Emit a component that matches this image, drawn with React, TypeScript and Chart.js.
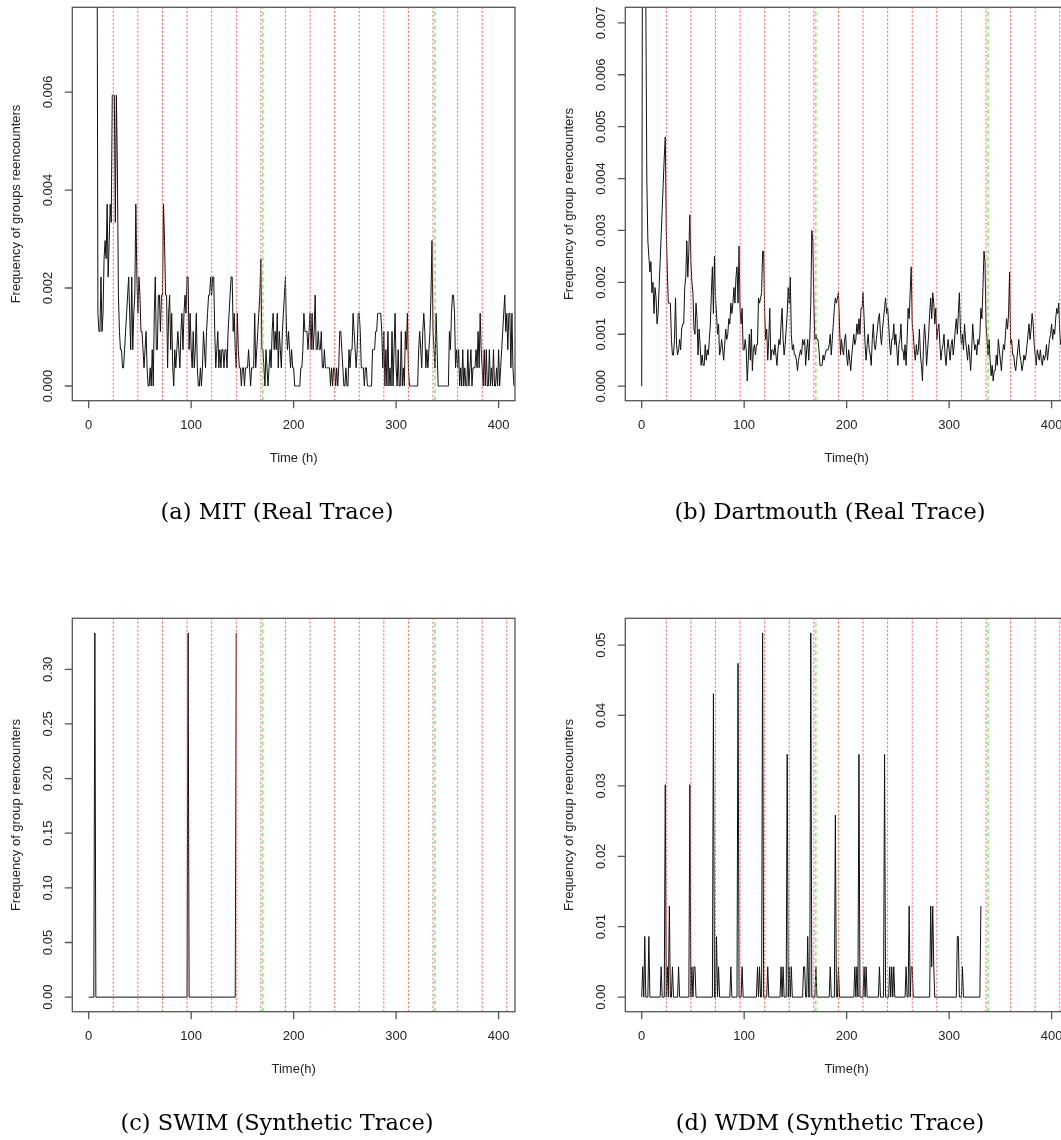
import { useEffect, useRef } from 'react'
import Chart from 'chart.js/auto'

// shared axis data
const xTickHours = [0, 100, 200, 300, 400]
const dayMarkHours = [24, 48, 72, 96, 120, 144, 168, 192, 216, 240, 264, 288, 312, 336, 360, 384, 408]
const mitDayMarkHours = [24, 48, 72, 96, 120, 144, 168, 192, 216, 240, 264, 288, 312, 336, 360, 384]
const weekMarkHours = [170, 338]

// (a) MIT: hourly reencounter counts from hour 8, one count = 0.000371
const MIT_START_HOUR = 8
const MIT_COUNT_UNIT = 0.000371
const mitCounts = [
  30, 4, 3, 3, 6, 3, 4, 7, 8, 7, 10, 6, 8, 10, 9, 16,
  16, 16, 9, 16, 12, 5, 3, 2, 2, 1, 1, 2, 3, 4, 5, 6, 4, 2, 6, 2, 4, 5, 10, 6,
  4, 6, 5, 3, 3, 2, 1, 2, 3, 1, 0, 0, 1, 0, 2, 0, 4, 6, 2, 2, 5, 5, 3, 5,
  5, 10, 8, 5, 5, 1, 4, 5, 2, 4, 1, 0, 2, 1, 2, 3, 2, 1, 3, 4, 2, 4, 5, 4,
  6, 6, 2, 4, 2, 1, 3, 1, 2, 4, 1, 0, 0, 1, 0, 1, 3, 2, 1, 3, 4, 5, 5, 6,
  5, 6, 6, 3, 1, 2, 3, 1, 2, 1, 2, 2, 1, 2, 2, 1, 3, 4, 5, 6, 6, 3, 4, 2,
  1, 4, 2, 1, 1, 0, 1, 1, 0, 1, 1, 1, 2, 1, 0, 1, 1, 1, 4, 1, 2, 3, 4, 5,
  7, 2, 2, 1, 0, 2, 1, 0, 1, 2, 1, 3, 4, 2, 3, 2, 4, 1, 3, 2, 1, 3, 4, 5,
  6, 3, 2, 3, 2, 1, 2, 1, 1, 0, 0, 0, 0, 0, 0, 1, 1, 2, 4, 3, 3, 3, 2, 3,
  4, 2, 4, 2, 3, 5, 2, 2, 3, 2, 2, 3, 1, 1, 2, 1, 1, 1, 1, 1, 0, 1, 0, 1,
  1, 0, 1, 0, 1, 3, 3, 2, 1, 0, 0, 1, 0, 0, 2, 1, 2, 2, 4, 3, 2, 1, 2, 4,
  4, 3, 1, 1, 1, 0, 1, 1, 0, 0, 0, 0, 0, 2, 2, 2, 3, 3, 4, 4, 4, 4, 3, 1,
  3, 0, 2, 0, 3, 0, 1, 0, 3, 0, 2, 4, 1, 0, 2, 0, 0, 3, 0, 1, 0, 3, 2, 4,
  1, 0, 0, 0, 0, 0, 0, 0, 0, 0, 2, 3, 2, 1, 3, 4, 3, 1, 2, 1, 2, 3, 5, 8,
  3, 2, 1, 4, 2, 0, 0, 0, 0, 0, 0, 0, 0, 0, 0, 0, 3, 2, 4, 5, 5, 4, 1, 2,
  1, 2, 0, 1, 0, 2, 0, 1, 0, 0, 2, 0, 1, 2, 0, 1, 1, 1, 2, 1, 3, 1, 4, 2,
  1, 0, 2, 0, 2, 0, 0, 2, 0, 1, 0, 2, 0, 0, 1, 0, 2, 0, 1, 2, 3, 4, 5, 3,
  4, 2, 4, 4, 1, 4, 1, 0,
]
const mitYTicks = [0, 0.002, 0.004, 0.006]

// (b) Dartmouth: hourly frequency from hour 0, in units of 1e-4
const dartmouthPer10k = [
  0, 120, 100, 90, 75, 40, 28, 25, 22, 24, 18, 20, 14, 19, 17, 12, 14, 19, 24, 29, 34, 39, 44, 48,
  30, 22, 16, 16, 16, 9, 6, 6, 9, 17, 8, 6, 7, 9, 7, 11, 12, 12, 19, 21, 28, 21, 26, 33,
  24, 20, 18, 11, 10, 16, 13, 6, 11, 8, 4, 6, 4, 4, 8, 5, 7, 6, 9, 12, 18, 23, 14, 25,
  17, 14, 10, 12, 6, 7, 9, 7, 5, 8, 11, 9, 10, 13, 12, 16, 14, 16, 19, 16, 21, 23, 16, 27,
  15, 12, 15, 7, 7, 9, 7, 1, 5, 10, 5, 11, 3, 7, 8, 6, 8, 8, 17, 16, 17, 18, 26, 26,
  14, 9, 11, 5, 9, 15, 5, 7, 7, 6, 8, 6, 4, 7, 9, 8, 12, 15, 9, 6, 8, 11, 14, 19,
  16, 21, 10, 7, 8, 6, 6, 5, 3, 5, 6, 7, 6, 9, 8, 9, 4, 7, 9, 5, 9, 16, 30, 28,
  16, 9, 10, 9, 9, 7, 4, 4, 4, 6, 5, 6, 7, 7, 7, 8, 10, 6, 9, 12, 15, 17, 16, 17,
  18, 12, 6, 9, 7, 6, 9, 10, 6, 4, 7, 5, 3, 6, 8, 10, 8, 9, 12, 10, 13, 10, 15, 15,
  18, 13, 8, 5, 8, 10, 7, 6, 4, 9, 12, 8, 7, 9, 11, 13, 14, 10, 8, 11, 13, 15, 17, 14,
  15, 12, 8, 6, 9, 9, 12, 8, 10, 7, 4, 8, 9, 12, 7, 7, 5, 8, 4, 9, 15, 13, 18, 23,
  12, 10, 7, 5, 8, 6, 7, 11, 6, 4, 1, 8, 12, 9, 4, 7, 10, 14, 17, 13, 18, 16, 12, 15,
  9, 11, 12, 8, 5, 7, 8, 10, 6, 4, 7, 9, 7, 5, 8, 9, 6, 8, 11, 13, 10, 14, 18, 11,
  8, 10, 7, 12, 9, 7, 5, 8, 6, 3, 7, 12, 9, 7, 8, 6, 9, 8, 10, 15, 13, 19, 26, 24,
  12, 9, 6, 9, 5, 2, 4, 1, 3, 3, 6, 4, 9, 7, 5, 3, 6, 8, 7, 10, 13, 11, 14, 22,
  8, 9, 6, 6, 4, 3, 5, 7, 9, 6, 5, 3, 4, 6, 5, 6, 8, 10, 12, 9, 11, 14, 12, 8,
  6, 4, 7, 6, 5, 7, 5, 4, 6, 5, 6, 8, 5, 7, 9, 10, 12, 9, 11, 10, 13, 15, 14, 16,
  10, 8, 9, 7, 8, 6, 9, 7, 8,
]
const dartmouthYTicks = [0, 0.001, 0.002, 0.003, 0.004, 0.005, 0.006, 0.007]

// (c) SWIM: the trace is zero except for three spikes
const swimHours = [0, 5, 6, 7, 96, 97, 98, 143, 144]
const swimValues = [0, 0, 0.3333, 0, 0, 0.3333, 0, 0, 0.3333]
const swimYTicks = [0, 0.05, 0.1, 0.15, 0.2, 0.25, 0.3]

// (d) WDM: spike points, one count = 0.00431
const WDM_COUNT_UNIT = 0.00431
const wdmHours = [
  0, 1, 2, 3, 4, 6, 7, 8, 18, 19, 20, 22, 23, 24, 25, 26, 27, 28, 29, 30, 31, 35, 36, 37,
  46, 47, 48, 49, 50, 51, 52, 53, 69, 70, 71, 72, 73, 74, 75, 76, 86, 87, 88, 93, 94, 95,
  97, 98, 99, 112, 113, 114, 115, 116, 117, 118, 119, 122, 123, 124, 135, 136, 137, 138, 139,
  141, 142, 143, 144, 145, 146, 147, 157, 158, 159, 160, 161, 162, 163, 164, 165, 166, 169,
  170, 171, 183, 184, 185, 188, 189, 190, 191, 192, 193, 207, 208, 209, 210, 211, 212, 213,
  216, 217, 218, 219, 220, 231, 232, 233, 236, 237, 238, 241, 242, 243, 244, 245, 246, 247,
  257, 258, 259, 260, 261, 262, 263, 264, 265, 281, 282, 283, 284, 285, 286, 307, 308, 309,
  310, 312, 313, 314, 330, 331,
]
const wdmCounts = [
  0, 1, 0, 2, 0, 0, 2, 0, 0, 1, 0, 0, 7, 0, 1, 0, 3, 0, 0, 1, 0, 0, 1, 0,
  0, 7, 0, 1, 0, 1, 1, 0, 0, 10, 0, 0, 2, 0, 1, 0, 0, 1, 0, 0, 11, 0,
  0, 1, 0, 0, 1, 0, 1, 0, 0, 12, 0, 0, 1, 0, 0, 1, 0, 1, 0,
  0, 8, 0, 1, 0, 1, 0, 0, 1, 1, 0, 0, 2, 0, 0, 12, 0, 0,
  1, 0, 0, 1, 0, 0, 6, 0, 0, 1, 0, 0, 1, 0, 1, 0, 8, 0,
  0, 1, 0, 1, 0, 0, 1, 0, 0, 8, 0, 0, 1, 0, 1, 0, 1, 0,
  0, 1, 0, 0, 3, 0, 1, 1, 0, 0, 3, 1, 3, 1, 0, 0, 2, 2,
  0, 0, 1, 0, 0, 3,
]
const wdmYTicks = [0, 0.01, 0.02, 0.03, 0.04, 0.05]

const AXIS_FONT = '13px "Liberation Sans", Arial, Helvetica, sans-serif'
const CANVAS_SIZE = 540
const PANEL_DX = 553
const PANEL_DY = 611

interface Point {
  x: number
  y: number
}

interface PanelProps {
  col: number
  row: number
  points: Point[]
  yMin: number
  yMax: number
  yTicks: number[]
  yDigits: number
  yTitle: string
  xTitle: string
  dayMarks: number[]
  caption: string
}

function Panel({ col, row, points, yMin, yMax, yTicks, yDigits, yTitle, xTitle, dayMarks, caption }: PanelProps) {
  const canvasRef = useRef<HTMLCanvasElement>(null)
  const chartRef = useRef<Chart | null>(null)

  useEffect(() => {
    if (!canvasRef.current) return
    if (chartRef.current) chartRef.current.destroy()

    const markLine = (h: number, color: string, dash: number[]) => ({
      data: [
        { x: h, y: yMin },
        { x: h, y: yMax },
      ],
      borderColor: color,
      borderWidth: 1,
      borderDash: dash,
      pointRadius: 0,
      order: 0,
    })

    // R-like box, outward ticks, rotated y labels and axis titles
    const axesPlugin = {
      id: 'rAxes',
      afterDraw(chart: Chart) {
        const { ctx, chartArea } = chart
        const { left, right, top, bottom } = chartArea
        const xs = chart.scales.x
        const ys = chart.scales.y
        ctx.save()
        ctx.strokeStyle = '#555'
        ctx.lineWidth = 1.3
        ctx.strokeRect(left, top, right - left, bottom - top)
        ctx.fillStyle = '#222'
        ctx.font = AXIS_FONT
        ctx.textAlign = 'center'
        ctx.textBaseline = 'middle'
        ctx.beginPath()
        for (const v of xTickHours) {
          const px = xs.getPixelForValue(v)
          ctx.moveTo(px, bottom)
          ctx.lineTo(px, bottom + 7.5)
        }
        for (const v of yTicks) {
          const py = ys.getPixelForValue(v)
          ctx.moveTo(left, py)
          ctx.lineTo(left - 7.5, py)
        }
        ctx.stroke()
        for (const v of xTickHours) {
          ctx.fillText(String(v), xs.getPixelForValue(v), bottom + 24.5)
        }
        for (const v of yTicks) {
          ctx.save()
          ctx.translate(left - 24, ys.getPixelForValue(v))
          ctx.rotate(-Math.PI / 2)
          ctx.fillText(v.toFixed(yDigits), 0, 0)
          ctx.restore()
        }
        ctx.fillText(xTitle, (left + right) / 2, bottom + 58)
        ctx.translate(left - 56, (top + bottom) / 2)
        ctx.rotate(-Math.PI / 2)
        ctx.fillText(yTitle, 0, 0)
        ctx.restore()
      },
    }

    chartRef.current = new Chart(canvasRef.current, {
      type: 'line',
      data: {
        datasets: [
          ...dayMarks.map((h) => markLine(h, 'rgb(255, 85, 85)', [2, 2])),
          ...weekMarkHours.map((h) => markLine(h, 'rgb(60, 225, 60)', [4, 3])),
          {
            data: points,
            borderColor: '#111',
            borderWidth: 1,
            pointRadius: 0,
            tension: 0,
            order: 1,
          },
        ],
      },
      options: {
        animation: false,
        responsive: false,
        events: [],
        layout: { padding: { left: 72.3, top: 7.3, right: 25, bottom: CANVAS_SIZE - 400.7 } },
        plugins: { legend: { display: false }, tooltip: { enabled: false } },
        scales: {
          x: { type: 'linear', min: -16, max: 416, display: false },
          y: { type: 'linear', min: yMin, max: yMax, display: false },
        },
      },
      plugins: [axesPlugin],
    })

    return () => {
      if (chartRef.current) {
        chartRef.current.destroy()
        chartRef.current = null
      }
    }
  }, [points, yMin, yMax, yTicks, yDigits, yTitle, xTitle, dayMarks])

  return (
    <>
      <div
        style={{
          position: 'absolute',
          left: col * PANEL_DX,
          top: row * PANEL_DY,
          width: CANVAS_SIZE,
          height: CANVAS_SIZE,
        }}
      >
        <canvas ref={canvasRef} width={CANVAS_SIZE} height={CANVAS_SIZE} style={{ display: 'block' }} />
      </div>
      <div
        style={{
          position: 'absolute',
          left: 277 + col * PANEL_DX - 250,
          top: 500 + row * PANEL_DY,
          width: 500,
          textAlign: 'center',
          fontFamily: '"DejaVu Serif", serif',
          fontSize: 22.5,
          lineHeight: 1,
          color: '#000',
          whiteSpace: 'nowrap',
        }}
      >
        {caption}
      </div>
    </>
  )
}

const mitPoints = mitCounts.map((c, i) => ({ x: MIT_START_HOUR + i, y: c * MIT_COUNT_UNIT }))
const dartmouthPoints = dartmouthPer10k.map((v, i) => ({ x: i, y: v / 10000 }))
const swimPoints = swimHours.map((h, i) => ({ x: h, y: swimValues[i] }))
const wdmPoints = wdmHours.map((h, i) => ({ x: h, y: wdmCounts[i] * WDM_COUNT_UNIT }))

export default function App() {
  return (
    <div
      style={{
        position: 'absolute',
        left: 0,
        top: 0,
        width: 1061,
        height: 1140,
        overflow: 'hidden',
        background: '#fff',
      }}
    >
      <Panel
        col={0}
        row={0}
        points={mitPoints}
        yMin={-0.0003}
        yMax={0.00773}
        yTicks={mitYTicks}
        yDigits={3}
        yTitle="Frequency of groups reencounters"
        xTitle="Time (h)"
        dayMarks={mitDayMarkHours}
        caption="(a) MIT (Real Trace)"
      />
      <Panel
        col={1}
        row={0}
        points={dartmouthPoints}
        yMin={-0.00028}
        yMax={0.0073}
        yTicks={dartmouthYTicks}
        yDigits={3}
        yTitle="Frequency of group reencounters"
        xTitle="Time(h)"
        dayMarks={dayMarkHours}
        caption="(b) Dartmouth (Real Trace)"
      />
      <Panel
        col={0}
        row={1}
        points={swimPoints}
        yMin={-0.01333}
        yMax={0.34667}
        yTicks={swimYTicks}
        yDigits={2}
        yTitle="Frequency of group reencounters"
        xTitle="Time(h)"
        dayMarks={dayMarkHours}
        caption="(c) SWIM (Synthetic Trace)"
      />
      <Panel
        col={1}
        row={1}
        points={wdmPoints}
        yMin={-0.00207}
        yMax={0.0538}
        yTicks={wdmYTicks}
        yDigits={2}
        yTitle="Frequency of group reencounters"
        xTitle="Time(h)"
        dayMarks={dayMarkHours}
        caption="(d) WDM (Synthetic Trace)"
      />
    </div>
  )
}
